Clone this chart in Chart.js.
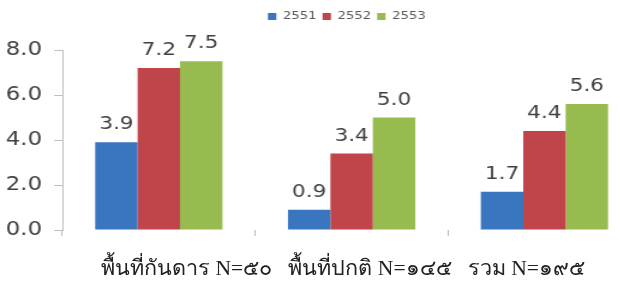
<!DOCTYPE html>
<html>
<head>
<meta charset="utf-8">
<script src="https://cdn.jsdelivr.net/npm/chart.js@4/dist/chart.umd.min.js"></script>
<style>
  body { margin: 0; background: #fff; overflow: hidden; width: 620px; height: 285px; }
  #wrap { position: absolute; left: 0; top: 0; transform: scaleX(1.2); transform-origin: 0 0; }
  #caption { position: absolute; left: 43px; width: 600px; top: 253px; line-height: 30px; text-align: center;
             font-family: "Liberation Serif", "DejaVu Serif", serif; font-size: 21.6px; color: #222; white-space: pre; }
</style>
</head>
<body>
<div id="wrap"><canvas id="graph" width="578" height="285"></canvas></div>
<div id="caption"></div>
<script>
const categories = ["พื้นที่กันดาร N=๕๐", "พื้นที่ปกติ N=๑๔๕", "รวม N=๑๙๕"];
const years = ["2551", "2552", "2553"];
const v2551 = [3.9, 0.9, 1.7];
const v2552 = [7.2, 3.4, 4.4];
const v2553 = [7.5, 5.0, 5.6];
const yTicks = [0, 2, 4, 6, 8];

document.getElementById("caption").textContent = categories.join("   ");

// numbers above the bars
const valueLabels = {
  id: "valueLabels",
  afterDatasetsDraw(chart) {
    const ctx = chart.ctx;
    ctx.save();
    ctx.font = '18px "DejaVu Sans"';
    ctx.fillStyle = "#404040";
    ctx.textAlign = "center";
    ctx.textBaseline = "alphabetic";
    chart.data.datasets.forEach((ds, i) => {
      chart.getDatasetMeta(i).data.forEach((bar, j) => {
        ctx.fillText(ds.data[j].toFixed(1), bar.x, bar.y - 13);
      });
    });
    ctx.restore();
  }
};

// legend sits higher up and a bit to the right, plot starts lower
const legendSpace = {
  id: "legendSpace",
  beforeInit(chart) {
    const fit = chart.legend.fit;
    chart.legend.fit = function () { fit.call(this); this.height = 50; };
  },
  afterLayout(chart) {
    chart.legend.right += 44;
    chart.legend.top += 6;
  }
};

const graph = document.getElementById("graph").getContext("2d");
const myChart = new Chart(graph, {
  type: "bar",
  data: {
    labels: categories,
    datasets: [
      { label: years[0], data: v2551, backgroundColor: "#3A75C0" },
      { label: years[1], data: v2552, backgroundColor: "#C0454A" },
      { label: years[2], data: v2553, backgroundColor: "#97BB4F" }
    ]
  },
  options: {
    responsive: false,
    animation: false,
    categoryPercentage: 0.66,
    barPercentage: 1,
    layout: { padding: { left: 0, right: 44, top: 0, bottom: 0 } },
    plugins: {
      legend: {
        position: "top",
        labels: {
          boxWidth: 7,
          boxHeight: 7,
          padding: 5,
          color: "#595959",
          font: { family: "DejaVu Sans", size: 11 }
        }
      },
      tooltip: { enabled: false }
    },
    scales: {
      x: {
        border: { display: false },
        grid: { drawOnChartArea: false, drawTicks: true, tickLength: 6, color: "#bbbbbb" },
        ticks: { display: false },
        afterFit(scale) { scale.height = 55; }
      },
      y: {
        min: 0,
        max: 8,
        afterBuildTicks(scale) { scale.ticks = yTicks.map(v => ({ value: v })); },
        border: { display: true, color: "#c0c0c0" },
        grid: { drawOnChartArea: false, drawTicks: true, tickLength: 7, color: "#c0c0c0" },
        ticks: {
          padding: 10,
          color: "#404040",
          font: { family: "DejaVu Sans", size: 19 },
          callback: v => v.toFixed(1)
        },
        afterFit(scale) { scale.width = 52; }
      }
    }
  },
  plugins: [valueLabels, legendSpace]
});
</script>
</body>
</html>
